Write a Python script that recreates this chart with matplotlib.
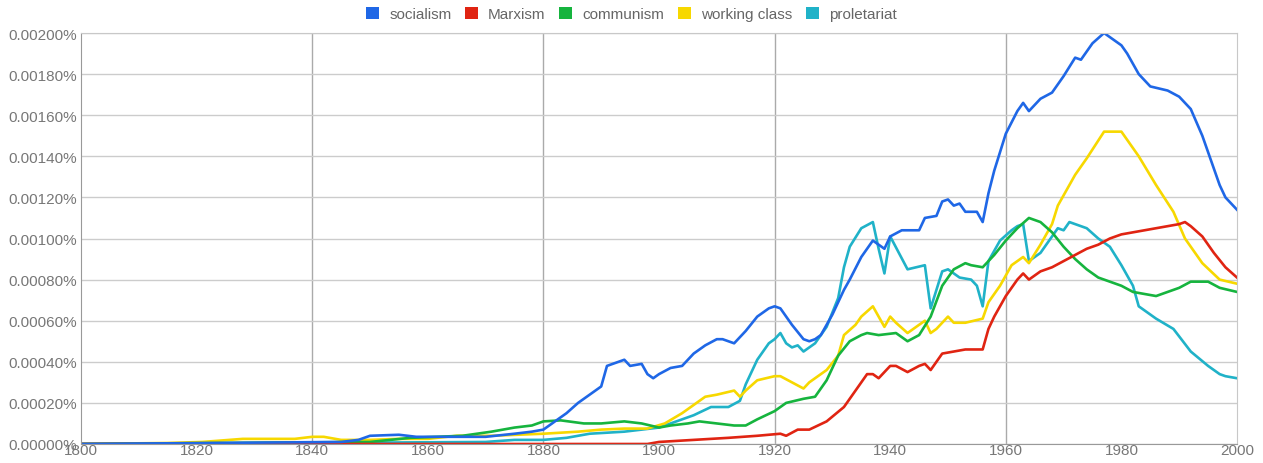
import matplotlib.pyplot as plt
from matplotlib.patches import Patch
from matplotlib.ticker import FuncFormatter, MultipleLocator

# values are in percent (0.00114 means 0.00114%)
socialism_years = [1800, 1845, 1848, 1850, 1855, 1858, 1863, 1870, 1875, 1878, 1880, 1882, 1884,
                   1886, 1888, 1890, 1891, 1893, 1894, 1895, 1897, 1898, 1899, 1900, 1902, 1904,
                   1906, 1908, 1910, 1911, 1913, 1915, 1917, 1919, 1920, 1921, 1923, 1925, 1926,
                   1927, 1928, 1930, 1932, 1933, 1935, 1937, 1939, 1940, 1942, 1945, 1946, 1948,
                   1949, 1950, 1951, 1952, 1953, 1955, 1956, 1957, 1958, 1960, 1962, 1963, 1964,
                   1966, 1968, 1970, 1972, 1973, 1975, 1977, 1978, 1980, 1981, 1983, 1985, 1988,
                   1990, 1992, 1994, 1995, 1997, 1998, 1999, 2000]
socialism = [0.0, 0.00001, 0.00002, 0.00004, 0.000045, 0.000035, 0.000035, 0.000035, 0.00005,
             0.00006, 0.00007, 0.00011, 0.00015, 0.00020, 0.00024, 0.00028, 0.00038, 0.00040,
             0.00041, 0.00038, 0.00039, 0.00034, 0.00032, 0.00034, 0.00037, 0.00038, 0.00044,
             0.00048, 0.00051, 0.00051, 0.00049, 0.00055, 0.00062, 0.00066, 0.00067, 0.00066,
             0.00058, 0.00051, 0.00050, 0.00051, 0.00053, 0.00063, 0.00075, 0.00080, 0.00091,
             0.00099, 0.00095, 0.00101, 0.00104, 0.00104, 0.00110, 0.00111, 0.00118, 0.00119,
             0.00116, 0.00117, 0.00113, 0.00113, 0.00108, 0.00122, 0.00133, 0.00151, 0.00162,
             0.00166, 0.00162, 0.00168, 0.00171, 0.00179, 0.00188, 0.00187, 0.00195, 0.00200,
             0.00198, 0.00194, 0.00190, 0.00180, 0.00174, 0.00172, 0.00169, 0.00163, 0.00150,
             0.00142, 0.00126, 0.00120, 0.00117, 0.00114]

marxism_years = [1800, 1898, 1900, 1906, 1912, 1917, 1921, 1922, 1924, 1926, 1929, 1932, 1934,
                 1936, 1937, 1938, 1940, 1941, 1943, 1945, 1946, 1947, 1949, 1951, 1953, 1956,
                 1957, 1958, 1960, 1962, 1963, 1964, 1966, 1968, 1970, 1972, 1974, 1976, 1978,
                 1980, 1982, 1984, 1986, 1988, 1990, 1991, 1992, 1994, 1996, 1998, 2000]
marxism = [0.0, 0.0, 0.00001, 0.00002, 0.00003, 0.00004, 0.00005, 0.00004, 0.00007, 0.00007,
           0.00011, 0.00018, 0.00026, 0.00034, 0.00034, 0.00032, 0.00038, 0.00038, 0.00035,
           0.00038, 0.00039, 0.00036, 0.00044, 0.00045, 0.00046, 0.00046, 0.00056, 0.00062,
           0.00072, 0.00080, 0.00083, 0.00080, 0.00084, 0.00086, 0.00089, 0.00092, 0.00095,
           0.00097, 0.00100, 0.00102, 0.00103, 0.00104, 0.00105, 0.00106, 0.00107, 0.00108,
           0.00106, 0.00101, 0.00093, 0.00086, 0.00081]

communism_years = [1800, 1850, 1857, 1866, 1871, 1875, 1878, 1880, 1883, 1887, 1890, 1894, 1897,
                   1900, 1902, 1905, 1907, 1910, 1913, 1915, 1917, 1920, 1922, 1925, 1927, 1929,
                   1931, 1933, 1935, 1936, 1938, 1941, 1943, 1945, 1947, 1949, 1951, 1953, 1954,
                   1956, 1958, 1960, 1962, 1964, 1966, 1968, 1970, 1972, 1974, 1976, 1978, 1980,
                   1982, 1984, 1986, 1988, 1990, 1992, 1995, 1997, 2000]
communism = [0.0, 0.00001, 0.00003, 0.00004, 0.00006, 0.00008, 0.00009, 0.00011, 0.000115,
             0.00010, 0.00010, 0.00011, 0.00010, 0.00008, 0.00009, 0.00010, 0.00011, 0.00010,
             0.00009, 0.00009, 0.00012, 0.00016, 0.00020, 0.00022, 0.00023, 0.00031, 0.00043,
             0.00050, 0.00053, 0.00054, 0.00053, 0.00054, 0.00050, 0.00053, 0.00062, 0.00077,
             0.00085, 0.00088, 0.00087, 0.00086, 0.00092, 0.00099, 0.00105, 0.00110, 0.00108,
             0.00103, 0.00096, 0.00090, 0.00085, 0.00081, 0.00079, 0.00077, 0.00074, 0.00073,
             0.00072, 0.00074, 0.00076, 0.00079, 0.00079, 0.00076, 0.00074]

working_years = [1800, 1815, 1821, 1828, 1837, 1840, 1842, 1845, 1850, 1855, 1860, 1865, 1871,
                 1880, 1886, 1890, 1894, 1898, 1901, 1904, 1906, 1908, 1910, 1913, 1914, 1915,
                 1917, 1920, 1921, 1923, 1925, 1926, 1929, 1931, 1932, 1934, 1935, 1937, 1939,
                 1940, 1941, 1943, 1945, 1946, 1947, 1948, 1950, 1951, 1953, 1956, 1957, 1959,
                 1961, 1963, 1964, 1966, 1968, 1969, 1972, 1974, 1977, 1980, 1983, 1986, 1989,
                 1991, 1994, 1997, 2000]
working_class = [0.0, 0.000005, 0.00001, 0.000025, 0.000025, 0.000035, 0.000035, 0.00002,
                 0.00002, 0.000025, 0.000025, 0.00004, 0.00004, 0.00005, 0.00006, 0.00007,
                 0.000075, 0.000075, 0.00010, 0.00015, 0.00019, 0.00023, 0.00024, 0.00026,
                 0.00023, 0.00026, 0.00031, 0.00033, 0.00033, 0.00030, 0.00027, 0.00030,
                 0.00036, 0.00043, 0.00053, 0.00058, 0.00062, 0.00067, 0.00057, 0.00062,
                 0.00059, 0.00054, 0.00058, 0.00060, 0.00054, 0.00056, 0.00062, 0.00059,
                 0.00059, 0.00061, 0.00069, 0.00077, 0.00087, 0.00091, 0.00088, 0.00097,
                 0.00107, 0.00116, 0.00131, 0.00139, 0.00152, 0.00152, 0.00140, 0.00126,
                 0.00113, 0.00100, 0.00088, 0.00080, 0.00078]

proletariat_years = [1800, 1840, 1870, 1875, 1880, 1884, 1888, 1894, 1900, 1902, 1904, 1906,
                     1909, 1912, 1914, 1915, 1917, 1919, 1920, 1921, 1922, 1923, 1924, 1925,
                     1927, 1929, 1931, 1932, 1933, 1935, 1937, 1938, 1939, 1940, 1943, 1946,
                     1947, 1948, 1949, 1950, 1952, 1954, 1955, 1956, 1957, 1959, 1961, 1962,
                     1963, 1964, 1966, 1969, 1970, 1971, 1974, 1976, 1978, 1980, 1982, 1983,
                     1986, 1989, 1992, 1995, 1997, 1998, 2000]
proletariat = [0.0, 0.000005, 0.00001, 0.00002, 0.00002, 0.00003, 0.00005, 0.00006, 0.00008,
               0.00010, 0.00012, 0.00014, 0.00018, 0.00018, 0.00021, 0.00029, 0.00041,
               0.00049, 0.00051, 0.00054, 0.00049, 0.00047, 0.00048, 0.00045, 0.00049,
               0.00057, 0.00071, 0.00086, 0.00096, 0.00105, 0.00108, 0.00095, 0.00083,
               0.00101, 0.00085, 0.00087, 0.00066, 0.00075, 0.00084, 0.00085, 0.00081,
               0.00080, 0.00077, 0.00067, 0.00089, 0.00099, 0.00104, 0.00106, 0.00107,
               0.00089, 0.00093, 0.00105, 0.00104, 0.00108, 0.00105, 0.00100, 0.00096,
               0.00087, 0.00077, 0.00067, 0.00061, 0.00056, 0.00045, 0.00038, 0.00034,
               0.00033, 0.00032]

labels = ["socialism", "Marxism", "communism", "working class", "proletariat"]
colors = ["#1f67e6", "#e02412", "#16b43e", "#f7d800", "#20b2c8"]

plt.rcParams["font.family"] = ["Liberation Sans", "DejaVu Sans"]

fig = plt.figure(figsize=(12.63, 4.64), dpi=100)
ax = fig.add_axes([81 / 1263, 1 - 445 / 464, 1156 / 1263, 411 / 464])

series = [
    (socialism_years, socialism),
    (marxism_years, marxism),
    (communism_years, communism),
    (working_years, working_class),
    (proletariat_years, proletariat),
]
# draw in reverse so socialism ends up on top
for (xs, ys), color in reversed(list(zip(series, colors))):
    ax.plot(xs, ys, color=color, linewidth=1.9, solid_joinstyle="round")

ax.set_xlim(1800, 2000)
ax.set_ylim(0, 0.002)

ax.xaxis.set_major_locator(MultipleLocator(20))
ax.yaxis.set_major_locator(MultipleLocator(0.0002))
ax.yaxis.set_major_formatter(FuncFormatter(lambda v, p: f"{v:.5f}%"))
ax.tick_params(length=0, labelsize=11, labelcolor="#777777")
ax.tick_params(axis="x", pad=-1)
ax.tick_params(axis="y", pad=3)

# horizontal grid every tick, vertical grid every 40 years
ax.grid(axis="y", color="#cccccc", linewidth=1)
for yr in range(1840, 2000, 40):
    ax.axvline(yr, color="#aaaaaa", linewidth=1, zorder=0)
ax.set_axisbelow(True)

for side in ["left", "bottom"]:
    ax.spines[side].set_color("#999999")
for side in ["top", "right"]:
    ax.spines[side].set_color("#c8c8c8")

handles = [Patch(facecolor=c, edgecolor="none") for c in colors]
fig.legend(handles, labels, loc="center", bbox_to_anchor=(0.5, 1 - 15 / 464), ncol=5,
           frameon=False, fontsize=11, labelcolor="#666666", handlelength=0.85,
           handleheight=0.85, handletextpad=0.65, columnspacing=0.9)

fig.savefig("out.png", dpi=100)
